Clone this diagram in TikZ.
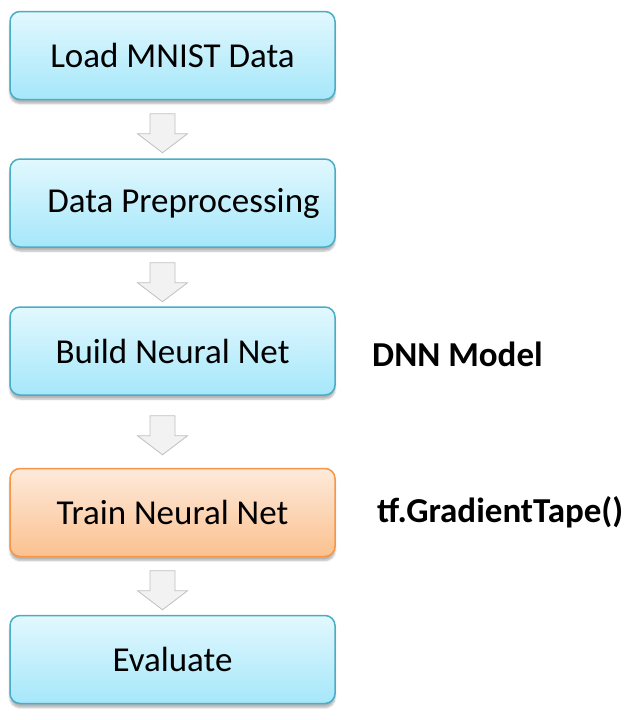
\documentclass[tikz,border=0pt]{standalone}
\usepackage{fontspec}
\setmainfont{Carlito}
\usetikzlibrary{shadows.blur}
\definecolor{bluetop}{HTML}{E2F8FE}
\definecolor{bluebot}{HTML}{A5E7FA}
\definecolor{blueline}{HTML}{4BACC6}
\definecolor{ortop}{HTML}{FDEADB}
\definecolor{orbot}{HTML}{FBC18F}
\definecolor{orline}{HTML}{F79646}
\definecolor{arrfill}{HTML}{F2F2F2}
\definecolor{arrline}{HTML}{BFBFBF}
\tikzset{
  stepbox/.style={draw=blueline, line width=1.5pt, rounded corners=10pt,
    top color=bluetop, bottom color=bluebot,
    minimum width=325pt, minimum height=88pt, inner sep=0pt,
    font=\fontsize{35}{40}\selectfont,
    blur shadow={shadow xshift=0pt, shadow yshift=-4pt, shadow blur steps=6, shadow opacity=30}},
  trainbox/.style={stepbox, draw=orline, top color=ortop, bottom color=orbot},
  note/.style={font=\fontsize{35}{40}\selectfont\bfseries, inner sep=0pt},
  flowarrow/.style={fill=arrfill, draw=arrline, line width=0.8pt}
}
\begin{document}
\begin{tikzpicture}[x=1pt,y=-1pt]
\useasboundingbox (0,0) rectangle (636,720);
\node[stepbox] (n1) at (172.5,55.5) {Load MNIST Data};
\node[stepbox] (n2) at (172.5,203) {\hspace*{22pt}Data Preprocessing};
\node[stepbox] (n3) at (172.5,351) {Build Neural Net};
\node[trainbox] (n4) at (172.5,512.5) {Train Neural Net};
\node[stepbox] (n5) at (172.5,659.5) {Evaluate};
\node[note, anchor=west] (m1) at (372,354) {DNN Model};
\node[note, anchor=west] (m2) at (377,512) {tf.GradientTape()};
% block arrows below each box
\foreach \a/\g in {n1/13.5, n2/15, n3/20, n4/13.5}{
  \path ([xshift=-10pt,yshift=-\g pt]\a.south) coordinate (s)
        ([yshift=-39pt]s) coordinate (t);
  \draw[flowarrow] ([xshift=-12.5pt]s) -- ([xshift=12.5pt]s)
     -- ([xshift=12.5pt,yshift=19pt]t) -- ([xshift=25pt,yshift=19pt]t)
     -- (t) -- ([xshift=-25pt,yshift=19pt]t) -- ([xshift=-12.5pt,yshift=19pt]t)
     -- cycle;
}
\end{tikzpicture}
\end{document}
